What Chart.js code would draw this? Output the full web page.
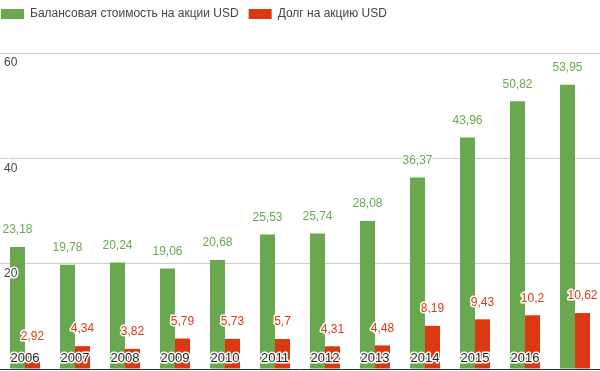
<!DOCTYPE html>
<html lang="ru">

<head>
    <meta charset="UTF-8" />
    <title>Балансовая стоимость и долг на акцию</title>
    <script src="https://cdn.jsdelivr.net/npm/chart.js"></script>
    <style>
        html, body {
            margin: 0;
            padding: 0;
            background: white;
        }

        #wrap {
            width: 600px;
            height: 371px;
        }
    </style>
</head>

<body>
    <div id="wrap"><canvas id="chart"></canvas></div>

    <script>
        // data
        const years = ["2006", "2007", "2008", "2009", "2010", "2011", "2012", "2013", "2014", "2015", "2016", "2017"];
        const bookValue = [23.18, 19.78, 20.24, 19.06, 20.68, 25.53, 25.74, 28.08, 36.37, 43.96, 50.82, 53.95];
        const debtPerShare = [2.92, 4.34, 3.82, 5.79, 5.73, 5.7, 4.31, 4.48, 8.19, 9.43, 10.2, 10.62];
        // last year is not printed on the x axis in the picture
        const yearLabels = ["2006", "2007", "2008", "2009", "2010", "2011", "2012", "2013", "2014", "2015", "2016", ""];
        const yTicks = [20, 40, 60];

        const green = "#6aa84f";
        const red = "#dc3912";
        const fontFamily = "'Liberation Sans', Arial, sans-serif";

        function haloText(ctx, text, x, y, color) {
            ctx.lineWidth = 3;
            ctx.strokeStyle = "white";
            ctx.lineJoin = "round";
            ctx.strokeText(text, x, y);
            ctx.fillStyle = color;
            ctx.fillText(text, x, y);
        }

        // nudge the legend to the picture's position
        const legendShift = {
            id: "legendShift",
            afterLayout(chart) {
                const lg = chart.legend;
                const dy = lg.top + 2;
                lg.left -= 9; lg.right -= 9;
                lg.top -= dy; lg.bottom -= dy;
            }
        };

        // value labels above bars + year labels inside the plot
        const valueLabels = {
            id: "valueLabels",
            afterDatasetsDraw(chart) {
                const ctx = chart.ctx;
                ctx.save();
                ctx.textAlign = "center";
                ctx.textBaseline = "middle";
                ctx.font = "12px " + fontFamily;
                chart.data.datasets.forEach((ds, di) => {
                    const meta = chart.getDatasetMeta(di);
                    meta.data.forEach((bar, i) => {
                        const txt = String(ds.data[i]).replace(".", ",");
                        haloText(ctx, txt, bar.x, bar.y - 17, ds.labelColor);
                    });
                });
                ctx.font = "13px " + fontFamily;
                const xs = chart.scales.x;
                yearLabels.forEach((yr, i) => {
                    if (!yr) return;
                    haloText(ctx, yr, xs.getPixelForValue(i), chart.chartArea.bottom - 11, "#222");
                });
                ctx.restore();
            }
        };

        new Chart(document.getElementById("chart"), {
            type: "bar",
            data: {
                labels: years,
                datasets: [
                    { label: "Балансовая стоимость на акции USD", data: bookValue, backgroundColor: green, labelColor: green },
                    { label: "Долг на акцию USD", data: debtPerShare, backgroundColor: red, labelColor: red }
                ]
            },
            options: {
                responsive: true,
                maintainAspectRatio: false,
                animation: false,
                layout: { padding: { top: 21, bottom: 2, left: 0, right: 0 } },
                datasets: { bar: { categoryPercentage: 0.6, barPercentage: 1 } },
                plugins: {
                    legend: {
                        position: "top",
                        align: "start",
                        labels: {
                            boxWidth: 23,
                            boxHeight: 10,
                            padding: 10,
                            color: "#444",
                            font: { size: 12, family: fontFamily }
                        }
                    },
                    tooltip: { enabled: false }
                },
                scales: {
                    x: {
                        grid: { display: false, drawTicks: false },
                        ticks: { display: false },
                        border: { display: true, color: "#333", width: 1 },
                        afterFit(scale) { scale.height = 0; }
                    },
                    y: {
                        min: 0,
                        max: 60,
                        afterBuildTicks(scale) {
                            scale.ticks = [0].concat(yTicks).map(v => ({ value: v }));
                        },
                        afterFit(scale) {
                            scale.width = 0;
                            scale.paddingTop = 0;
                            scale.paddingBottom = 0;
                        },
                        grid: {
                            drawTicks: false,
                            color: ctx => ctx.tick && ctx.tick.value === 0 ? "rgba(0,0,0,0)" : "#cccccc"
                        },
                        border: { display: false },
                        ticks: {
                            z: 1, // labels over the bars, grid stays behind
                            mirror: true,
                            padding: 4,
                            labelOffset: 10,
                            color: "#444",
                            font: { size: 12, family: fontFamily },
                            textStrokeColor: "white",
                            textStrokeWidth: 3,
                            callback: v => v === 0 ? "" : v
                        }
                    }
                }
            },
            plugins: [legendShift, valueLabels]
        });
    </script>
</body>

</html>
